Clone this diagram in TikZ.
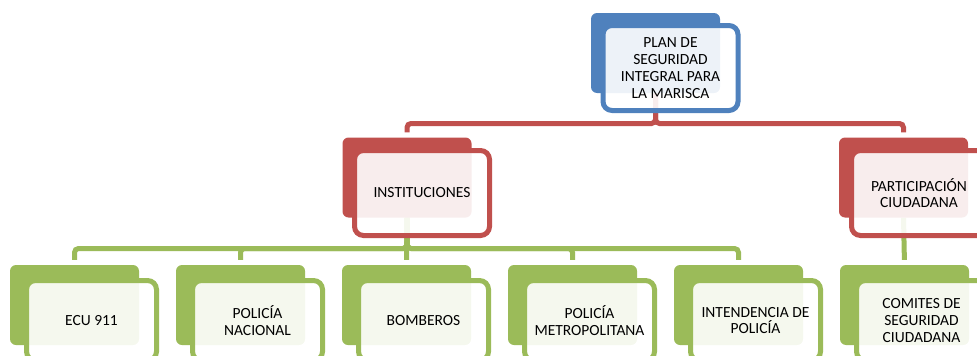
\documentclass[tikz,border=0pt]{standalone}
\usepackage{fontspec}
\setmainfont{Carlito}
\usepackage{tikz}
\usetikzlibrary{backgrounds}
\definecolor{blueacc}{HTML}{4F81BD}
\definecolor{redacc}{HTML}{C0504D}
\definecolor{greenacc}{HTML}{9BBB59}
\newcommand\boxfont{\fontsize{15.5pt}{16.8pt}\selectfont}

\begin{document}
\begin{tikzpicture} [x = 1pt, y = -1pt,
  back/.style = {rounded corners = 6pt, inner sep = 0pt, minimum width = 129pt, minimum height = 80pt},
  front/.style = {draw, line width = 5pt, rounded corners = 9pt, fill = white, fill opacity = .9, text opacity = 1, align = center, font = \boxfont, inner sep = 2pt},
  big/.style = {minimum width = 135pt, minimum height = 85pt},
  small/.style = {minimum width = 130pt, minimum height = 80pt},
  link/.style = {line width = 5pt, rounded corners = 4pt, shorten > = 5pt}]
\useasboundingbox (0,0) rectangle (977,356);
\coordinate (bus1) at (0,123.5);
\coordinate (bus2) at (0,248.5);
\node[back, fill = blueacc] (plan) at (655.5,53) {};
\node[front, big, draw = blueacc] (planf) at (670.5,68) {PLAN DE\\SEGURIDAD\\INTEGRAL PARA\\LA MARISCA};
\node[back, fill = redacc] (inst) at (407,177.5) {};
\node[front, big, draw = redacc] (instf) at (422,193) {INSTITUCIONES};
\node[back, fill = redacc] (part) at (903.5,177.5) {};
\node[front, big, draw = redacc] (partf) at (919,193) {PARTICIPACIÓN\\CIUDADANA};
\node[back, fill = greenacc] (ecu) at (74.5,305) {};
\node[front, small, draw = greenacc] (ecuf) at (91.5,320.5) {ECU 911};
\node[back, fill = greenacc] (polnac) at (240.5,305) {};
\node[front, small, draw = greenacc] (polnacf) at (257.5,320.5) {POLICÍA\\NACIONAL};
\node[back, fill = greenacc] (bomb) at (406.5,305) {};
\node[front, small, draw = greenacc] (bombf) at (423.5,320.5) {BOMBEROS};
\node[back, fill = greenacc] (polmet) at (572.5,305) {};
\node[front, small, draw = greenacc] (polmetf) at (589.5,320.5) {POLICÍA\\METROPOLITANA};
\node[back, fill = greenacc] (intend) at (738.5,305) {};
\node[front, small, draw = greenacc] (intendf) at (755.5,320.5) {INTENDENCIA DE\\POLICÍA};
\node[back, fill = greenacc] (comit) at (904.5,305) {};
\node[front, small, draw = greenacc] (comitf) at (921.5,320.5) {COMITES DE\\SEGURIDAD\\CIUDADANA};
\begin{scope}[on background layer]
\draw [link, redacc] (plan.south) -- (plan.south |- bus1) -- (inst.north |- bus1) -- (inst.north);
\draw [link, redacc] (plan.south) -- (plan.south |- bus1) -- (part.north |- bus1) -- (part.north);
\draw [link, greenacc] (inst.south) -- (inst.south |- bus2) -- (ecu.north |- bus2) -- (ecu.north);
\draw [link, greenacc] (inst.south) -- (inst.south |- bus2) -- (polnac.north |- bus2) -- (polnac.north);
\draw [link, greenacc] (inst.south) -- (bomb.north);
\draw [link, greenacc] (inst.south) -- (inst.south |- bus2) -- (polmet.north |- bus2) -- (polmet.north);
\draw [link, greenacc] (inst.south) -- (inst.south |- bus2) -- (intend.north |- bus2) -- (intend.north);
\draw [link, greenacc] (part.south) -- (comit.north);
\end{scope}
\end{tikzpicture}
\end{document}
